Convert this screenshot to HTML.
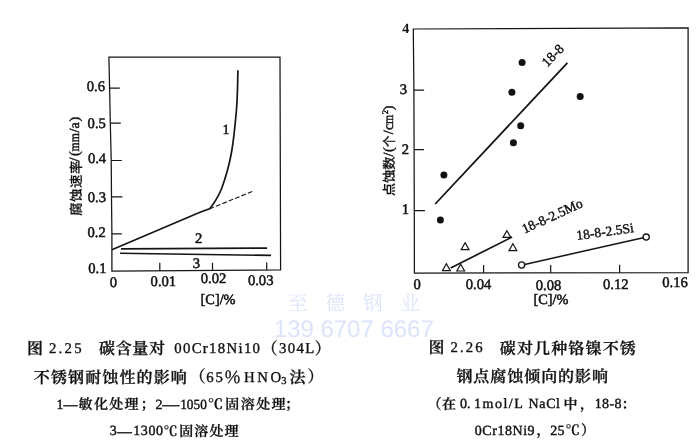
<!DOCTYPE html>
<html lang="zh-CN">
<head>
<meta charset="utf-8">
<title>图 2.25 / 图 2.26</title>
<style>
  html, body { margin: 0; padding: 0; background: #fff; }
  body { width: 700px; height: 448px; overflow: hidden; position: relative; }
  svg { position: absolute; left: 0; top: 0; display: block; will-change: transform; }
  text { text-rendering: geometricPrecision; }
  .lat { font-family: "Liberation Serif", "Noto Serif CJK SC", serif; }
  .cjk { font-family: "Liberation Serif", "Noto Serif CJK SC", serif; }
  .sans { font-family: "Liberation Sans", "Noto Sans CJK SC", sans-serif; }
  .ax { font-size: 14.6px; fill: #111; stroke: #111; stroke-width: 0.5px; }
  .c1 { font-size: 16px; font-weight: 600; fill: #111; stroke: #111; stroke-width: 0.3px; }
  .l1 { font-size: 14.8px; fill: #111; stroke: #111; stroke-width: 0.35px; }
  .c2 { font-size: 14px; font-weight: 600; fill: #111; stroke: #111; stroke-width: 0.28px; }
  .l2 { font-size: 14px; fill: #111; stroke: #111; stroke-width: 0.4px; }
  .ax.rl { font-size: 13.6px; stroke-width: 0.4px; }
  .ycjk { font-family: "Liberation Sans", "Noto Sans CJK SC", sans-serif; font-size: 13.4px; font-weight: 500; fill: #111; stroke: #111; stroke-width: 0.2px; }
  .yl { font-size: 14px; fill: #111; stroke: #111; stroke-width: 0.45px; }
  .ln { fill: none; stroke: #151515; stroke-linecap: butt; stroke-linejoin: miter; }
</style>
</head>
<body>
<svg width="700" height="448" viewBox="0 0 700 448">

  <!-- ================= watermark ================= -->
  <g id="watermark">
    <text class="cjk" x="287.8" y="310" font-size="20" font-weight="300" fill="#dae1fa" textLength="132.4" lengthAdjust="spacing">至 德 钢 业</text>
    <text class="sans" x="273.8" y="336.6" font-size="24" fill="#dde3fb" textLength="160" lengthAdjust="spacing">139 6707 6667</text>
  </g>

  <!-- ================= LEFT CHART (图 2.25) ================= -->
  <g id="chart-left">
    <!-- frame -->
    <path class="ln" stroke-width="1.25" d="M108.9,57.1 L280,57.1 L280.6,270 L111.9,271.1 L111.9,234 L111.5,197 L111.2,160 L110.3,123 L109.6,88 Z"/>
    <!-- y ticks -->
    <path class="ln" stroke-width="1.2" d="M109.6,88.1 H119.8 M110.3,123.2 H120.8 M111.2,160.5 H121.8 M111.5,196.9 H122.4 M111.9,233.8 H121.8"/>
    <!-- x ticks -->
    <path class="ln" stroke-width="1.2" d="M159.8,270.8 v-8 M212.5,270.4 v-7.6 M266.7,270.1 v-7.6"/>
    <!-- curve 1 -->
    <path class="ln" stroke-width="1.7" stroke-linejoin="round" d="M111.9,249.8 L200,212.2 L209.5,208.9 C210.12,208.10 211.87,206.07 213.2,204.1 C214.53,202.13 216.20,199.45 217.5,197.1 C218.80,194.75 219.88,192.68 221.0,190.0 C222.12,187.32 223.18,184.10 224.2,181.0 C225.22,177.90 226.17,174.78 227.1,171.4 C228.03,168.02 229.00,164.27 229.8,160.7 C230.60,157.13 231.25,153.93 231.9,150.0 C232.55,146.07 233.12,141.92 233.7,137.1 C234.28,132.28 234.90,126.20 235.4,121.1 C235.90,116.00 236.35,111.85 236.7,106.5 C237.05,101.15 237.30,95.05 237.5,89.0 C237.70,82.95 237.83,73.33 237.9,70.2"/>
    <!-- dashed extension -->
    <path class="ln" stroke-width="1.1" stroke-dasharray="4.8 2.1" d="M209.5,208.9 L252.9,191.2"/>
    <!-- curve 2 / 3 -->
    <path class="ln" stroke-width="1.6" d="M121,248.9 L267.1,248.1"/>
    <path class="ln" stroke-width="1.6" d="M120,253.3 L271.1,255.4"/>
    <!-- curve labels -->
    <text class="lat ax" x="225.9" y="133.9" text-anchor="middle" style="font-size:14px">1</text>
    <text class="lat ax" x="198.7" y="242.9" text-anchor="middle">2</text>
    <text class="lat ax" x="196.5" y="267.9" text-anchor="middle">3</text>
    <!-- y tick labels -->
    <text class="lat ax" x="86.7" y="90.6">0.6</text>
    <text class="lat ax" x="87.6" y="128.2">0.5</text>
    <text class="lat ax" x="87.9" y="163.4">0.4</text>
    <text class="lat ax" x="87.8" y="201.9">0.3</text>
    <text class="lat ax" x="87.5" y="237.4">0.2</text>
    <text class="lat ax" x="88.3" y="272.8">0.1</text>
    <!-- x tick labels -->
    <text class="lat ax" x="113.5" y="287" text-anchor="middle">0</text>
    <text class="lat ax" x="150.6" y="286">0.01</text>
    <text class="lat ax" x="200.7" y="283.2">0.02</text>
    <text class="lat ax" x="247.9" y="285.4">0.03</text>
    <text class="lat ax" x="200.6" y="304.4" style="font-size:14.3px">[C]/%</text>
    <!-- y axis title -->
    <g transform="translate(80.6,215.8) rotate(-90)">
      <text class="ycjk" x="0" y="0" textLength="55.1" lengthAdjust="spacing">腐蚀速率</text>
      <text class="lat yl" x="54.2" y="-1.2">/</text>
      <text class="lat yl" x="59.8" y="-1.2">(</text>
      <text class="lat yl" x="64.4" y="-1.2" textLength="18.2" lengthAdjust="spacingAndGlyphs">mm</text>
      <text class="lat yl" x="83.2" y="-1.2">/</text>
      <text class="lat yl" x="87.4" y="-1.2">a</text>
      <text class="lat yl" x="94.2" y="-1.2">)</text>
    </g>
  </g>

  <!-- ================= RIGHT CHART (图 2.26) ================= -->
  <g id="chart-right">
    <!-- frame -->
    <path class="ln" stroke-width="1.25" d="M413.3,29 L688.1,27.9 L688.1,272.6 L414.4,273 L414.3,211 L414.1,150 L413.9,90 Z"/>
    <!-- y ticks -->
    <path class="ln" stroke-width="1.2" d="M413.9,90.2 H424.1 M414.1,149.6 H424 M414.3,210.7 H424.9"/>
    <!-- x ticks -->
    <path class="ln" stroke-width="1.2" d="M483.6,272.9 v-7.9 M550.7,272.8 v-7.9 M619.6,272.7 v-7.9"/>
    <!-- regression lines -->
    <path class="ln" stroke-width="1.8" d="M435.2,204 L567.4,62.8"/>
    <path class="ln" stroke-width="1.7" d="M450.7,267.9 L512.1,237.1"/>
    <path class="ln" stroke-width="1.5" d="M524.6,264.4 L643.2,237.8"/>
    <!-- filled dots: 18-8 -->
    <g fill="#111">
      <circle cx="443.9" cy="175" r="3.5"/>
      <circle cx="440.4" cy="220" r="3.5"/>
      <circle cx="522.1" cy="62.5" r="3.5"/>
      <circle cx="511.9" cy="92.2" r="3.5"/>
      <circle cx="580.2" cy="96.5" r="3.5"/>
      <circle cx="520.7" cy="125.8" r="3.5"/>
      <circle cx="513.4" cy="142.7" r="3.5"/>
    </g>
    <!-- triangles: 18-8-2.5Mo -->
    <g class="ln" stroke-width="1.2" style="fill:none">
      <path d="M446.4,263.8 l3.9,6.8 h-7.8 Z"/>
      <path d="M460.7,264.2 l3.9,6.8 h-7.8 Z"/>
      <path d="M465.1,242.8 l3.9,6.8 h-7.8 Z"/>
      <path d="M506.9,230.8 l3.9,6.6 h-7.8 Z"/>
      <path d="M512.9,243.8 l3.9,6.8 h-7.8 Z"/>
    </g>
    <!-- open circles: 18-8-2.5Si -->
    <g class="ln" stroke-width="1.3" fill="#fff">
      <circle cx="521.6" cy="265" r="3.1"/>
      <circle cx="646.2" cy="237.1" r="3.1"/>
    </g>
    <!-- series labels -->
    <text class="lat ax rl" transform="translate(547.3,67.5) rotate(-46)" x="0" y="0">18-8</text>
    <text class="lat ax rl" transform="translate(524.4,233.7) rotate(-24.6)" x="0" y="0">18-8-2.5Mo</text>
    <text class="lat ax rl" transform="translate(577.1,240.1) rotate(-8)" x="0" y="0">18-8-2.5Si</text>
    <!-- y tick labels -->
    <text class="lat ax" x="405.7" y="32.9" text-anchor="middle" style="font-weight:bold;font-size:14px;stroke-width:0">4</text>
    <text class="lat ax" x="403.4" y="94.1" text-anchor="middle">3</text>
    <text class="lat ax" x="405.4" y="154.1" text-anchor="middle">2</text>
    <text class="lat ax" x="405.3" y="213.7" text-anchor="middle">1</text>
    <!-- x tick labels -->
    <text class="lat ax" x="417.1" y="289.4" text-anchor="middle">0</text>
    <text class="lat ax" x="465.8" y="289.4">0.04</text>
    <text class="lat ax" x="535.8" y="289.7">0.08</text>
    <text class="lat ax" x="603" y="288.8">0.12</text>
    <text class="lat ax" x="662.3" y="287.1">0.16</text>
    <text class="lat ax" x="533.4" y="304.4" style="font-size:14.3px">[C]/%</text>
    <!-- y axis title -->
    <g transform="translate(394,196.3) rotate(-90)">
      <text class="ycjk" x="0" y="0" textLength="40" lengthAdjust="spacing">点蚀数</text>
      <text class="lat yl" x="39.8" y="-0.6">/</text>
      <text class="lat yl" x="44.4" y="-0.6">(</text>
      <text class="ycjk" x="49.4" y="0" textLength="11.4" lengthAdjust="spacingAndGlyphs">个</text>
      <text class="lat yl" x="62" y="-0.6">/</text>
      <text class="lat yl" x="66.2" y="-0.6">c</text>
      <text class="lat yl" x="72.4" y="-0.6" textLength="9.2" lengthAdjust="spacingAndGlyphs">m</text>
      <text class="lat yl" x="82" y="-5.6" style="font-size:8.5px">2</text>
      <text class="lat yl" x="86" y="-0.6">)</text>
    </g>
  </g>

  <!-- ================= LEFT CAPTION ================= -->
  <g id="caption-left">
    <text class="cjk c1" x="26.9" y="353.8">图</text>
    <text class="lat l1" x="48.9" y="353.3" textLength="32.8" lengthAdjust="spacing">2.25</text>
    <text class="cjk c1" x="99" y="353.8" textLength="66" lengthAdjust="spacing">碳含量对</text>
    <text class="lat l1" x="174.3" y="353" textLength="85.7" lengthAdjust="spacing">00Cr18Ni10</text>
    <text class="cjk c1" x="261.6" y="353.8" style="font-weight:500">（</text>
    <text class="lat l1" x="279" y="352.8" textLength="35.2" lengthAdjust="spacing">304L</text>
    <text class="cjk c1" x="314.8" y="353.8" style="font-weight:500">）</text>

    <text class="cjk c1" x="33.8" y="382.6" textLength="153" lengthAdjust="spacing">不锈钢耐蚀性的影响</text>
    <text class="cjk c1" x="189.6" y="382.4" style="font-weight:500">（</text>
    <text class="lat l1" x="206.3" y="381.6" textLength="16.6" lengthAdjust="spacing">65</text>
    <text class="cjk c1" x="224" y="382.6" style="font-weight:500;font-size:17px">％</text>
    <text class="lat l1" x="243.9" y="381.6" textLength="37.2" lengthAdjust="spacing">HNO</text>
    <text class="lat l1" x="281.2" y="384" style="font-size:10.5px">3</text>
    <text class="cjk c1" x="289.6" y="382.6">法</text>
    <text class="cjk c1" x="307.6" y="382.4" style="font-weight:500">）</text>

    <text class="lat l2" x="56.6" y="408.8">1</text>
    <text class="cjk c2" x="63.4" y="409.2" textLength="14" lengthAdjust="spacingAndGlyphs">—</text>
    <text class="cjk c2" x="78.6" y="409.3" textLength="60" lengthAdjust="spacing">敏化处理</text>
    <text class="cjk c2" x="140.5" y="409.3">；</text>
    <text class="lat l2" x="155.6" y="408.6">2</text>
    <text class="cjk c2" x="162.2" y="409.2" textLength="17" lengthAdjust="spacingAndGlyphs">—</text>
    <text class="lat l2" x="180.2" y="408.6" textLength="26.6" lengthAdjust="spacingAndGlyphs">1050</text>
    <text class="cjk c2" x="207.8" y="409" textLength="15.5" lengthAdjust="spacingAndGlyphs">℃</text>
    <text class="cjk c2" x="225.2" y="409.3" textLength="60.4" lengthAdjust="spacing">固溶处理</text>
    <text class="cjk c2" x="285" y="409.3">；</text>

    <text class="lat l2" x="109.8" y="435.2">3</text>
    <text class="cjk c2" x="117.3" y="436" textLength="14.6" lengthAdjust="spacingAndGlyphs">—</text>
    <text class="lat l2" x="133.2" y="435.2" textLength="29.8" lengthAdjust="spacing">1300</text>
    <text class="cjk c2" x="163.4" y="435.8" textLength="14" lengthAdjust="spacingAndGlyphs">℃</text>
    <text class="cjk c2" x="179.2" y="436.2" textLength="59.4" lengthAdjust="spacing">固溶处理</text>
  </g>

  <!-- ================= RIGHT CAPTION ================= -->
  <g id="caption-right">
    <text class="cjk c1" x="428.4" y="353.1">图</text>
    <text class="lat l1" x="450.5" y="352.2" textLength="32.2" lengthAdjust="spacing">2.26</text>
    <text class="cjk c1" x="499.8" y="353.6" textLength="136" lengthAdjust="spacing">碳对几种铬镍不锈</text>
    <text class="cjk c1" x="456.4" y="382.2" textLength="151.6" lengthAdjust="spacing">钢点腐蚀倾向的影响</text>

    <text class="cjk c2" x="427.4" y="408.6" style="font-weight:500">（</text>
    <text class="cjk c2" x="442" y="408.8">在</text>
    <text class="lat l2" x="460" y="408" textLength="10.6" lengthAdjust="spacing">0.</text>
    <text class="lat l2" x="474" y="408" textLength="48.8" lengthAdjust="spacing">1mol/L</text>
    <text class="lat l2" x="528.6" y="408" textLength="31.4" lengthAdjust="spacing">NaCl</text>
    <text class="cjk c2" x="563.6" y="408.8">中</text>
    <text class="cjk c2" x="580" y="408.8">，</text>
    <text class="lat l2" x="594.8" y="408" textLength="26.6" lengthAdjust="spacing">18-8</text>
    <text class="cjk c2" x="621.6" y="408.8">：</text>

    <text class="lat l2" x="474.8" y="435" textLength="59.8" lengthAdjust="spacing">0Cr18Ni9</text>
    <text class="cjk c2" x="536.5" y="435.4">，</text>
    <text class="lat l2" x="550.2" y="435" textLength="14.4" lengthAdjust="spacing">25</text>
    <text class="cjk c2" x="565.6" y="435.2" textLength="14.4" lengthAdjust="spacingAndGlyphs">℃</text>
    <text class="cjk c2" x="581" y="435.2" style="font-weight:500">）</text>
  </g>
</svg>
</body>
</html>
